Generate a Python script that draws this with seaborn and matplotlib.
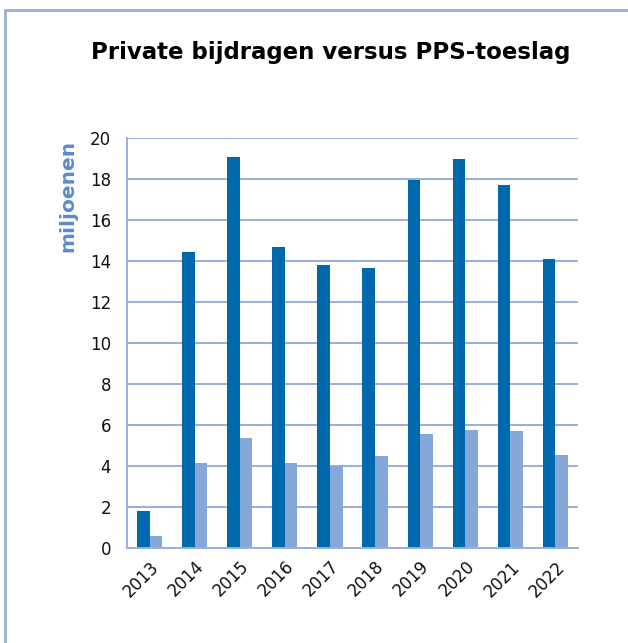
import matplotlib
matplotlib.use("Agg")
import matplotlib.pyplot as plt
import seaborn as sns
import pandas as pd
import numpy as np
from matplotlib.lines import Line2D

years = ["2013", "2014", "2015", "2016", "2017", "2018", "2019", "2020", "2021", "2022"]
private_bijdragen = [1.8, 14.45, 19.05, 14.68, 13.8, 13.66, 17.95, 18.97, 17.72, 14.12]
pps_toeslag = [0.6, 4.15, 5.35, 4.15, 4.0, 4.5, 5.55, 5.75, 5.72, 4.52]
series_names = ["Private bijdragen", "PPS-toeslag"]
yticks = [0, 2, 4, 6, 8, 10, 12, 14, 16, 18, 20]

df = pd.DataFrame({
    "jaar": years * 2,
    "waarde": private_bijdragen + pps_toeslag,
    "serie": [series_names[0]] * len(years) + [series_names[1]] * len(years),
})

sns.set_style("white")
plt.rcParams["font.family"] = ["DejaVu Sans"]

DARK = "#0069AD"
LIGHT = "#86A8D8"
GRID = "#98B0D8"

fig = plt.figure(figsize=(6.28, 6.43), dpi=100)
ax = fig.add_axes([127 / 628, 1 - 548 / 643, (578 - 127) / 628, (548 - 138) / 643])

sns.barplot(data=df, x="jaar", y="waarde", hue="serie", order=years,
            hue_order=series_names, palette=[DARK, LIGHT], width=0.56,
            gap=0, saturation=1, legend=False, ax=ax, linewidth=0)

ax.set_ylim(0, 20)
ax.set_xlim(-0.5, len(years) - 0.5)
ax.set_yticks(yticks)
ax.set_yticklabels([str(v) for v in yticks], fontsize=12, color="#111111")
ax.yaxis.grid(True, color=GRID, linewidth=1.4)
ax.set_axisbelow(True)

# x: major ticks at category boundaries (marks only), labels at centers
ax.set_xticks(np.arange(-0.5, len(years), 1.0))
ax.set_xticklabels([])
ax.set_xticks(np.arange(len(years)), minor=True)
ax.set_xticklabels(years, minor=True, rotation=45, ha="right",
                   rotation_mode="anchor", fontsize=12, color="#111111")
ax.tick_params(axis="x", which="major", length=4.5, width=1.4, color=GRID, direction="out")
ax.tick_params(axis="x", which="minor", length=0, pad=7)
ax.tick_params(axis="y", length=4.5, width=1.4, color=GRID, direction="out", pad=7)

for s in ["top", "right"]:
    ax.spines[s].set_visible(False)
for s in ["left", "bottom"]:
    ax.spines[s].set_color(GRID)
    ax.spines[s].set_linewidth(1.4)

ax.set_xlabel("")
ax.set_ylabel("")

fig.text(331 / 628, 1 - 53 / 643, "Private bijdragen versus PPS-toeslag",
         ha="center", va="center", fontsize=16.5, fontweight="bold", color="black")
fig.text(68 / 628, 1 - 196 / 643, "miljoenen", rotation=90, ha="center", va="center",
         fontsize=14.5, fontweight="bold", color="#5B8BC9")

BORDER = "#97B1D8"
fig.add_artist(Line2D([5 / 628, 1.0], [1 - 10 / 643, 1 - 10 / 643],
                      transform=fig.transFigure, color=BORDER, linewidth=2))
fig.add_artist(Line2D([5 / 628, 5 / 628], [0, 1 - 10 / 643],
                      transform=fig.transFigure, color=BORDER, linewidth=2))

fig.savefig("out.png", dpi=100, facecolor="white")
